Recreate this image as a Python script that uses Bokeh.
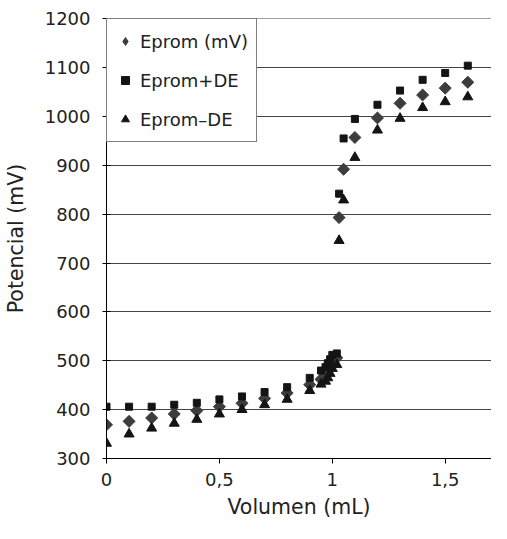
import math
from bokeh.plotting import figure
from bokeh.models import Range1d, FixedTicker, Legend, LegendItem
from bokeh.embed import file_html
from bokeh.resources import INLINE

volumen = [0, 0.1, 0.2, 0.3, 0.4, 0.5, 0.6, 0.7, 0.8, 0.9, 0.95, 0.97, 0.98, 0.99, 1.0, 1.02,
           1.03, 1.05, 1.1, 1.2, 1.3, 1.4, 1.5, 1.6]
eprom = [369, 376, 383, 391, 398, 406, 413, 423, 434, 451, 462, 472, 482, 492, 500, 506,
         793, 892, 957, 997, 1027, 1044, 1058, 1070]
eprom_mas = [406, 406, 406, 410, 414, 421, 427, 436, 446, 465, 480, 487, 495, 503, 512, 515,
             842, 955, 995, 1024, 1053, 1075, 1089, 1104]
eprom_menos = [331, 350, 362, 372, 380, 391, 400, 410, 421, 439, 452, 458, 465, 474, 484, 492,
               746, 829, 916, 972, 996, 1018, 1030, 1040]

x_ticks = [0, 0.5, 1, 1.5]
x_labels = {0: "0", 0.5: "0,5", 1: "1", 1.5: "1,5"}
y_ticks = [300, 400, 500, 600, 700, 800, 900, 1000, 1100, 1200]
series_names = ["Eprom (mV)", "Eprom+DE", "Eprom\u2013DE"]

FONT = "DejaVu Sans"
DIAMOND_COLOR = "#3d3d3d"

p = figure(width=491, height=523, output_backend="svg", toolbar_location=None,
           x_range=Range1d(0, 1.705), y_range=Range1d(300, 1200.5),
           min_border_left=104, min_border_top=18, min_border_bottom=65, min_border_right=0)
p.outline_line_color = None
p.xgrid.grid_line_color = None
p.ygrid.grid_line_color = "#444444"
p.ygrid.grid_line_width = 1
p.ygrid.ticker = FixedTicker(ticks=y_ticks)

p.xaxis.ticker = FixedTicker(ticks=x_ticks)
p.xaxis.major_label_overrides = x_labels
p.xaxis.minor_tick_line_color = None
p.xaxis.major_tick_out = 5
p.xaxis.major_tick_in = 0
p.xaxis.major_label_standoff = 9
p.xaxis.axis_label = "Volumen (mL)"
p.xaxis.axis_label_standoff = 6

p.yaxis.ticker = FixedTicker(ticks=y_ticks)
p.yaxis.minor_tick_line_color = None
p.yaxis.major_tick_out = 4
p.yaxis.major_tick_in = 4
p.yaxis.major_label_standoff = 12
p.yaxis.axis_label = "Potencial (mV)"
p.yaxis.axis_label_standoff = 14

for ax in (p.xaxis, p.yaxis):
    ax.axis_line_color = "black"
    ax.major_tick_line_color = "black"
    ax.major_label_text_font = FONT
    ax.major_label_text_font_size = "18px"
    ax.major_label_text_color = "#222222"
    ax.axis_label_text_font = FONT
    ax.axis_label_text_font_size = "20.5px"
    ax.axis_label_text_font_style = "normal"
    ax.axis_label_text_color = "#222222"

# diamonds drawn as rotated squares (square-ish diamond like the reference)
r_d = p.scatter(volumen, eprom, marker="square", size=8.5, angle=math.pi / 4,
                fill_color=DIAMOND_COLOR, line_color=DIAMOND_COLOR)
# same points as Bokeh "diamond" markers, hidden inside the rotated squares;
# used for the legend glyph because legends do not rotate markers
r_d_leg = p.scatter(volumen, eprom, marker="diamond", size=8,
                    fill_color=DIAMOND_COLOR, line_color=DIAMOND_COLOR)
r_s = p.scatter(volumen, eprom_mas, marker="square", size=7,
                fill_color="#141414", line_color="#141414")
r_t = p.scatter(volumen, eprom_menos, marker="triangle", size=10,
                fill_color="#141414", line_color="#141414")

legend = Legend(items=[LegendItem(label=series_names[0], renderers=[r_d_leg]),
                       LegendItem(label=series_names[1], renderers=[r_s]),
                       LegendItem(label=series_names[2], renderers=[r_t])],
                location="top_left")
legend.margin = 0
legend.padding = 8
legend.spacing = 11
legend.glyph_width = 20
legend.glyph_height = 20
legend.label_height = 28
legend.label_standoff = 5
legend.label_text_font = FONT
legend.label_text_font_size = "18px"
legend.label_text_color = "#222222"
legend.border_line_color = "black"
legend.border_line_width = 1
legend.background_fill_color = "white"
legend.background_fill_alpha = 1
p.add_layout(legend)

open("out.html", "w").write(file_html(p, INLINE))
